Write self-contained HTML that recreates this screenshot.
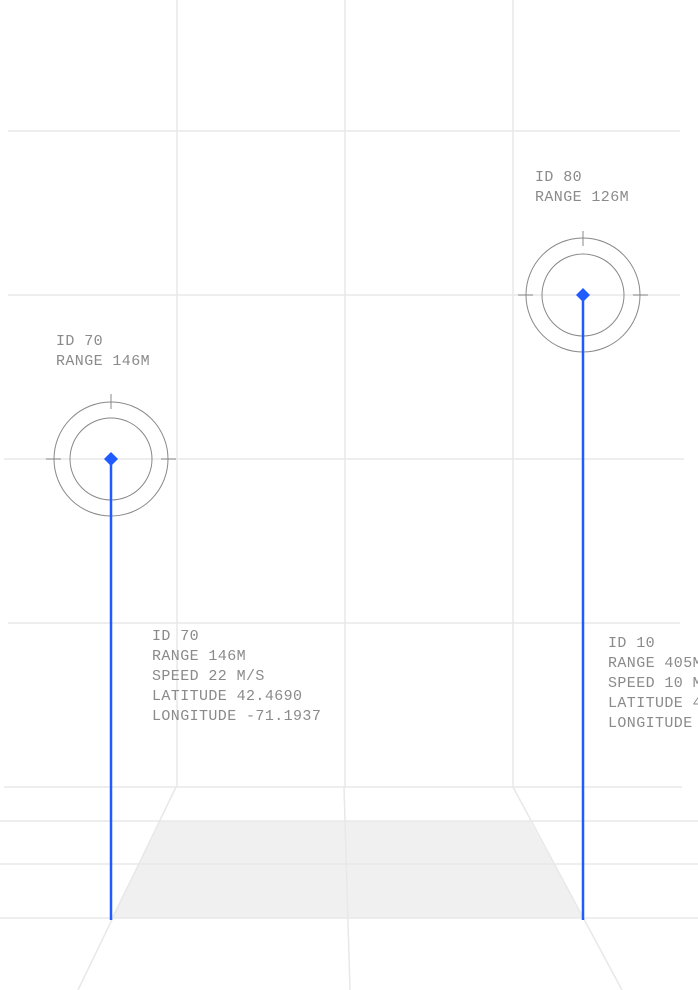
<!DOCTYPE html>
<html><head><meta charset="utf-8"><style>
html,body{margin:0;padding:0;background:#fff;width:698px;height:990px;overflow:hidden}
text{font-family:"Liberation Mono",monospace;font-size:15px;fill:#8a8a8a;letter-spacing:0.4px}
</style></head><body>
<svg width="698" height="990" viewBox="0 0 698 990" xmlns="http://www.w3.org/2000/svg">
<polygon points="160,821 530,821 583,918 111,918" fill="#f0f0f0"/>
<g stroke="#e8e8e8" stroke-width="1.5" fill="none">
<line x1="177" y1="0" x2="177" y2="787"/>
<line x1="345" y1="0" x2="345" y2="787"/>
<line x1="513" y1="0" x2="513" y2="787"/>
<line x1="8" y1="131" x2="680" y2="131"/>
<line x1="8" y1="295" x2="680" y2="295"/>
<line x1="4" y1="459" x2="684" y2="459"/>
<line x1="8" y1="623" x2="680" y2="623"/>
<line x1="4" y1="787" x2="682" y2="787"/>
<line x1="0" y1="821" x2="698" y2="821"/>
<line x1="0" y1="864" x2="698" y2="864"/>
<line x1="0" y1="918" x2="698" y2="918"/>
<line x1="176" y1="787" x2="78" y2="990"/>
<line x1="344" y1="787" x2="350" y2="990"/>
<line x1="513" y1="787" x2="622" y2="990"/>
</g>
<g stroke="#888" stroke-width="1" fill="none">
<circle cx="111" cy="459" r="57"/><circle cx="111" cy="459" r="41"/>
<line x1="111" y1="394" x2="111" y2="409"/><line x1="46" y1="459" x2="61" y2="459"/><line x1="161" y1="459" x2="176" y2="459"/>
<circle cx="583" cy="295" r="57"/><circle cx="583" cy="295" r="41"/>
<line x1="583" y1="231" x2="583" y2="246"/><line x1="518" y1="295" x2="533" y2="295"/><line x1="633" y1="295" x2="648" y2="295"/>
</g>
<g stroke="#1f5bff" stroke-width="2.5">
<line x1="111" y1="459" x2="111" y2="920"/>
<line x1="583" y1="295" x2="583" y2="920"/>
</g>
<g fill="#1f5bff">
<polygon points="111,452 118,459 111,466 104,459"/>
<polygon points="583,288 590,295 583,302 576,295"/>
</g>
<text x="56" y="345">ID 70</text><text x="56" y="365">RANGE 146M</text>
<text x="535" y="181">ID 80</text><text x="535" y="201">RANGE 126M</text>
<text x="152" y="640">ID 70</text><text x="152" y="660">RANGE 146M</text><text x="152" y="680">SPEED 22 M/S</text><text x="152" y="700">LATITUDE 42.4690</text><text x="152" y="720">LONGITUDE -71.1937</text>
<text x="608" y="647">ID 10</text><text x="608" y="667">RANGE 405M</text><text x="608" y="687">SPEED 10 M/S</text><text x="608" y="707">LATITUDE 42.4</text><text x="608" y="727">LONGITUDE -71.1</text>
</svg>
</body></html>
